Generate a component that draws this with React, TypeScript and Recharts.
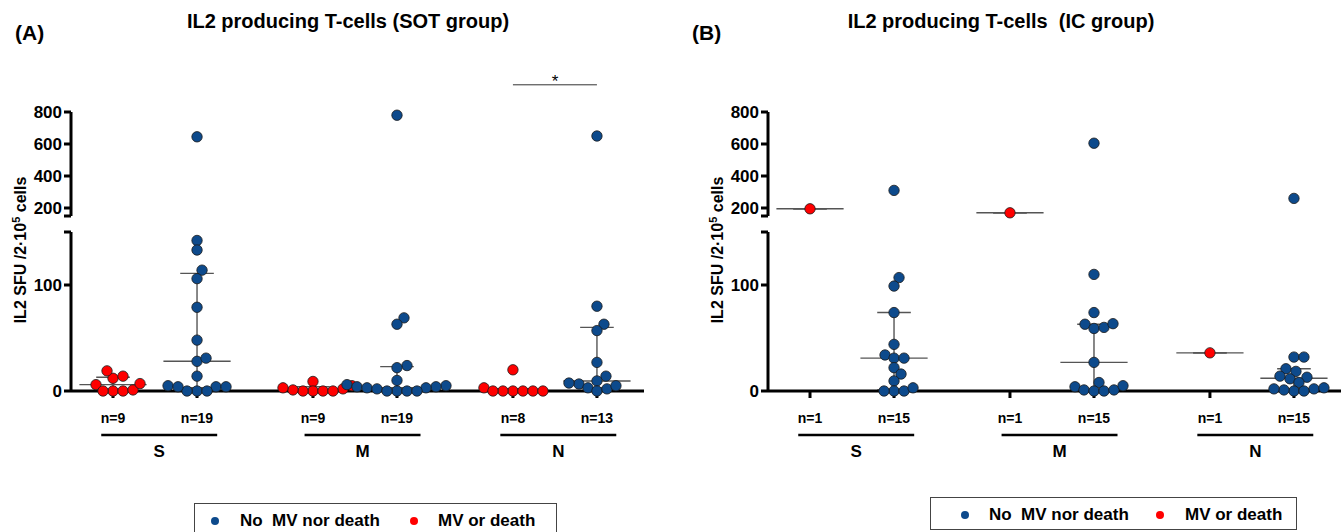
import React from "react";
import { ScatterChart, Scatter, XAxis, YAxis, ReferenceLine } from "recharts";

const FONT = "'Liberation Sans', Arial, Helvetica, sans-serif";
const BLUE = "#0d4a8c";
const RED = "#ff0000";
const BAR = "#555555";

// x slots: red / blue column for S, M, N
const slotX = [1, 2, 3.38, 4.38, 5.76, 6.76];
const groupX = [1.55, 3.97, 6.3];
const groupLabels = ["S", "M", "N"];
const slotColor = [RED, BLUE, RED, BLUE, RED, BLUE];

const lowerTicks = [0, 100, 150];
const upperTicks = [150, 200, 400, 600, 800];
const BREAK = 150;

const legendNames = ["No  MV nor death", "MV or death"];
const legendColors = [BLUE, RED];

// (A) SOT group
const sotLabels = ["n=9", "n=19", "n=9", "n=19", "n=8", "n=13"];
const sotSRed = [12, 6, 19, 14, 0, 0, 0, 1, 7];
const sotSBlue = [645, 142, 133, 114, 106, 79, 48, 28, 31, 14, 5, 4, 0, 0, 0, 4, 4];
const sotMRed = [9, 2, 0, 0, 0, 0, 1, 3, 5];
const sotMBlue = [780, 69, 63, 24, 22, 10, 6, 5, 4, 4, 3, 3, 2, 0, 0, 0, 0];
const sotNRed = [3, 0, 0, 20, 0, 0, 0, 0];
const sotNBlue = [650, 80, 63, 57, 27, 14, 9.5, 6.6, 3, 0, 2, 5, 7.5];
const sotMedian = [6, 28, 1, 3, 0, 9.5];
const sotQ1 = [0, 3, 0, 0, 0, 3];
const sotQ3 = [13, 111, 4, 23, 2, 60];

// (B) IC group
const icLabels = ["n=1", "n=15", "n=1", "n=15", "n=1", "n=15"];
const icSRed = [195];
const icSBlue = [310, 107, 99, 74, 44, 34, 31, 31, 22, 16, 9.5, 0, 0, 0, 3];
const icMRed = [170];
const icMBlue = [605, 110, 74, 63, 59, 60, 63.5, 27, 8, 4, 1, 0, 0, 1, 5];
const icNRed = [36];
const icNBlue = [260, 32, 32, 21, 18.5, 13, 11.5, 14, 8, 2, 0, 0, 1, 2, 3];
const icMedian = [195, 31, 170, 27, 36, 12];
const icQ1 = [195, 1, 170, 1, 36, 2];
const icQ3 = [195, 74, 170, 63, 36, 21];

// geometry
const PANEL_W = 647;
const Y_W = 71;
const RIGHT = 3;
const X_DOMAIN: [number, number] = [0.5, 7.32];
const PX_PER_X = (PANEL_W - Y_W - RIGHT) / (X_DOMAIN[1] - X_DOMAIN[0]);
const LOWER_H = 159;
const UPPER_H = 104;
const PX_LOWER = LOWER_H / (BREAK - 0);
const PX_UPPER = UPPER_H / (800 - BREAK);
const DOT_R = 5.2;
const SIG_LEVEL = 970; // height of the significance bar (above the axis)
const GROUP_LEVEL = -41.5; // height of the S/M/N underline (below the axis)
const GROUP_HALF = 0.69;

function swarm(values: number[], pxPerY: number, gap: number) {
  const order = values.map((_, i) => i).sort((a, b) => values[a] - values[b]);
  const placed: { x: number; y: number }[] = [];
  const out = values.map(() => 0);
  for (const i of order) {
    const y = values[i] * pxPerY;
    let dx = 0;
    for (let k = 0; k < 400; k++) {
      const c = k === 0 ? 0 : (k % 2 ? 1 : -1) * Math.ceil(k / 2);
      if (placed.every((p) => Math.hypot(p.x - c, p.y - y) >= gap)) {
        dx = c;
        break;
      }
    }
    placed.push({ x: dx, y });
    out[i] = dx;
  }
  return out;
}

function points(values: number[], slot: number, upper: boolean) {
  const seg = values.filter((v) => (upper ? v >= BREAK : v < BREAK));
  const dx = swarm(seg, upper ? PX_UPPER : PX_LOWER, 9.4);
  return seg.map((v, i) => ({ x: slot + dx[i] / PX_PER_X, y: v }));
}

const Dot = (color: string) => (p: any) => (
  <circle cx={p.cx} cy={p.cy} r={DOT_R} fill={color} stroke="#1a1a1a" strokeWidth={0.8} />
);

function summaryLines(median: number[], q1: number[], q3: number[], upper: boolean) {
  const out: React.ReactNode[] = [];
  slotX.forEach((sx, i) => {
    const lo = Math.min(q1[i], median[i]);
    const hi = Math.max(q3[i], median[i]);
    const fits = upper ? lo >= BREAK : hi < BREAK;
    if (!fits) return;
    const seg = (a: any, b: any, k: string) => (
      <ReferenceLine
        key={`${k}${i}`}
        segment={[a, b]}
        stroke={BAR}
        strokeWidth={1.4}
        ifOverflow="visible"
      />
    );
    out.push(seg({ x: sx, y: q1[i] }, { x: sx, y: q3[i] }, "v"));
    out.push(seg({ x: sx - 0.2, y: q3[i] }, { x: sx + 0.2, y: q3[i] }, "q3"));
    out.push(seg({ x: sx - 0.2, y: q1[i] }, { x: sx + 0.2, y: q1[i] }, "q1"));
    out.push(seg({ x: sx - 0.4, y: median[i] }, { x: sx + 0.4, y: median[i] }, "m"));
  });
  return out;
}

const tickStyle = { fill: "#000", fontSize: 17, fontWeight: "bold", fontFamily: FONT };
const axisStyle = { stroke: "#000", strokeWidth: 3 };

interface PanelProps {
  left: number;
  tag: string;
  tagX: number;
  title: string;
  titleX: number;
  labels: string[];
  series: number[][];
  median: number[];
  q1: number[];
  q3: number[];
  sig: boolean;
  legend: { x: number; y: number; w: number; h: number; dots: number[]; texts: number[]; ty: number };
}

function Panel(p: PanelProps) {
  const yAxisProps = {
    type: "number" as const,
    dataKey: "y",
    width: Y_W,
    axisLine: axisStyle,
    tickLine: axisStyle,
    tickSize: 7,
    tickMargin: 2,
    tick: tickStyle,
    interval: 0 as const,
  };
  return (
    <div style={{ position: "absolute", left: p.left, top: 0, width: PANEL_W, height: 532 }}>
      <div style={{ position: "absolute", left: p.tagX, top: 33, transform: "translateY(-50%)", fontSize: 21, fontWeight: "bold" }}>
        {p.tag}
      </div>
      <div
        style={{
          position: "absolute",
          left: p.titleX,
          top: 21,
          transform: "translate(-50%, -50%)",
          fontSize: 20,
          fontWeight: "bold",
          whiteSpace: "pre",
        }}
      >
        {p.title}
      </div>
      <div
        style={{
          position: "absolute",
          left: 20,
          top: 250,
          transform: "translate(-50%, -50%) rotate(-90deg)",
          fontSize: 16,
          fontWeight: "bold",
          whiteSpace: "nowrap",
        }}
      >
        IL2 SFU /2·10<sup style={{ fontSize: 11 }}>5</sup> cells
      </div>

      {/* upper segment 150-800 */}
      <div style={{ position: "absolute", left: 0, top: 62 }}>
        <ScatterChart width={PANEL_W} height={50 + UPPER_H + 10} margin={{ top: 50, right: RIGHT, bottom: 10, left: 0 }}>
          <XAxis type="number" dataKey="x" domain={X_DOMAIN} hide />
          <YAxis {...yAxisProps} domain={[BREAK, 800]} ticks={upperTicks} tickFormatter={(v: number) => (v === BREAK ? "" : String(v))} />
          {p.series.map((vals, i) => (
            <Scatter
              key={i}
              data={points(vals, slotX[i], true)}
              shape={Dot(slotColor[i])}
              isAnimationActive={false}
            />
          ))}
          {summaryLines(p.median, p.q1, p.q3, true)}
          {p.sig && (
            <ReferenceLine
              segment={[
                { x: slotX[4], y: SIG_LEVEL },
                { x: slotX[5], y: SIG_LEVEL },
              ]}
              stroke="#333"
              strokeWidth={1}
              ifOverflow="visible"
              label={{ value: "*", position: "top", offset: -2, fill: "#000", fontSize: 17, fontFamily: FONT }}
            />
          )}
        </ScatterChart>
      </div>

      {/* lower segment 0-150 */}
      <div style={{ position: "absolute", left: 0, top: 222 }}>
        <ScatterChart width={PANEL_W} height={10 + LOWER_H + 36 + 50} margin={{ top: 10, right: RIGHT, bottom: 50, left: 0 }}>
          <XAxis
            type="number"
            dataKey="x"
            domain={X_DOMAIN}
            ticks={slotX}
            interval={0}
            height={36}
            axisLine={axisStyle}
            tickLine={axisStyle}
            tickSize={7}
            tickMargin={15}
            tick={{ ...tickStyle, fontSize: 14 }}
            tickFormatter={(_v: number, i: number) => p.labels[i]}
          />
          <YAxis {...yAxisProps} domain={[0, BREAK]} ticks={lowerTicks} tickFormatter={(v: number) => (v === BREAK ? "" : String(v))} />
          {p.series.map((vals, i) => (
            <Scatter
              key={i}
              data={points(vals, slotX[i], false)}
              shape={Dot(slotColor[i])}
              isAnimationActive={false}
            />
          ))}
          {summaryLines(p.median, p.q1, p.q3, false)}
          {groupX.map((gx, i) => (
            <ReferenceLine
              key={`g${i}`}
              segment={[
                { x: gx - GROUP_HALF, y: GROUP_LEVEL },
                { x: gx + GROUP_HALF, y: GROUP_LEVEL },
              ]}
              stroke="#000"
              strokeWidth={2.5}
              ifOverflow="visible"
              label={{
                value: groupLabels[i],
                position: "bottom",
                offset: 10,
                fill: "#000",
                fontSize: 17,
                fontWeight: "bold",
                fontFamily: FONT,
              }}
            />
          ))}
        </ScatterChart>
      </div>

      <div
        style={{
          position: "absolute",
          left: p.legend.x,
          top: p.legend.y,
          width: p.legend.w,
          height: p.legend.h,
          border: "1px solid #444",
          boxSizing: "border-box",
        }}
      >
        {legendNames.map((name, i) => (
          <React.Fragment key={name}>
            <div
              style={{
                position: "absolute",
                left: p.legend.dots[i] - 4,
                top: p.legend.ty - 4,
                width: 8,
                height: 8,
                borderRadius: "50%",
                background: legendColors[i],
              }}
            />
            <div
              style={{
                position: "absolute",
                left: p.legend.texts[i],
                top: p.legend.ty,
                transform: "translateY(-50%)",
                fontSize: 17,
                fontWeight: "bold",
                whiteSpace: "pre",
              }}
            >
              {name}
            </div>
          </React.Fragment>
        ))}
      </div>
    </div>
  );
}

export default function App() {
  return (
    <div
      style={{
        position: "absolute",
        left: 0,
        top: 0,
        width: 1344,
        height: 532,
        overflow: "hidden",
        background: "#fff",
        fontFamily: FONT,
        color: "#000",
      }}
    >
      <Panel
        left={0}
        tag="(A)"
        tagX={15}
        title="IL2 producing T-cells (SOT group)"
        titleX={348}
        labels={sotLabels}
        series={[sotSRed, sotSBlue, sotMRed, sotMBlue, sotNRed, sotNBlue]}
        median={sotMedian}
        q1={sotQ1}
        q3={sotQ3}
        sig={true}
        legend={{ x: 194, y: 503, w: 363, h: 36, dots: [20, 219], texts: [45, 243], ty: 17 }}
      />
      <Panel
        left={697}
        tag="(B)"
        tagX={-5}
        title="IL2 producing T-cells  (IC group)"
        titleX={304}
        labels={icLabels}
        series={[icSRed, icSBlue, icMRed, icMBlue, icNRed, icNBlue]}
        median={icMedian}
        q1={icQ1}
        q3={icQ3}
        sig={false}
        legend={{ x: 233, y: 497, w: 367, h: 33, dots: [34, 229], texts: [58, 254], ty: 17 }}
      />
    </div>
  );
}
